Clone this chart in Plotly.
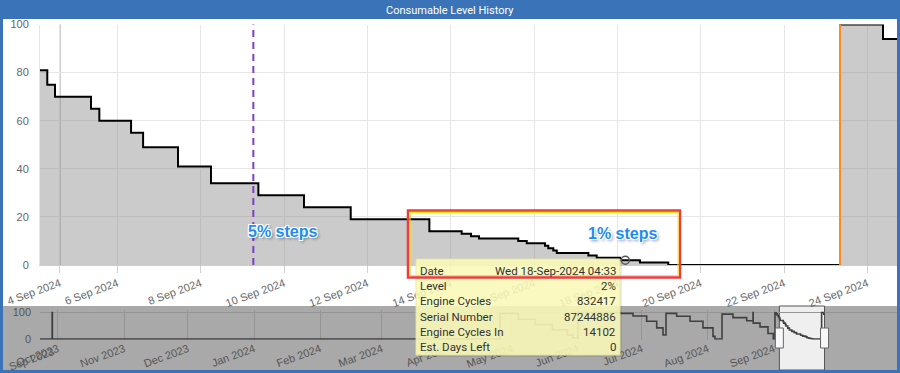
import plotly.graph_objects as go

# ---------------- data ----------------
dates = [
    "2023-09-22 12:00", "2023-09-28 06:00", "2023-09-28 09:00",
    "2024-04-25 10:00", "2024-05-04 00:00", "2024-05-12 00:00", "2024-05-20 00:00",
    "2024-05-27 00:00", "2024-05-29 16:00",
    "2024-06-01 00:30", "2024-06-20 17:30", "2024-06-26 20:00", "2024-07-03 06:00",
    "2024-07-07 23:00", "2024-07-10 21:50",
    "2024-07-12 07:40", "2024-07-17 08:00", "2024-07-23 14:00", "2024-07-29 16:00",
    "2024-08-03 09:00", "2024-08-04 07:30",
    "2024-08-07 14:20", "2024-08-12 18:00", "2024-08-19 04:30", "2024-08-22 03:36",
    "2024-08-22 06:00", "2024-08-25 10:20", "2024-08-29 04:20", "2024-08-31 16:00",
    "2024-09-01 11:16", "2024-09-02 00:00", "2024-09-02 12:00", "2024-09-03 00:00",
    "2024-09-03 08:00",
    "2024-09-03 16:41", "2024-09-03 21:07", "2024-09-05 08:48", "2024-09-05 13:36",
    "2024-09-06 07:52", "2024-09-06 14:48", "2024-09-07 10:54", "2024-09-08 05:54",
    "2024-09-09 09:12", "2024-09-10 11:30", "2024-09-11 14:24", "2024-09-13 11:42",
    "2024-09-14 06:18", "2024-09-14 11:42", "2024-09-14 16:18", "2024-09-15 14:54",
    "2024-09-15 19:48", "2024-09-16 06:18", "2024-09-16 08:12", "2024-09-16 11:06",
    "2024-09-16 13:06", "2024-09-17 07:18", "2024-09-17 12:06", "2024-09-18 01:30",
    "2024-09-18 04:33", "2024-09-18 13:00", "2024-09-19 05:18", "2024-09-23 08:14",
    "2024-09-24 09:00", "2024-09-24 17:04",
]
levels = [
    0, 100, 0,
    97, 75, 55, 35,
    15, 5,
    100, 97, 87, 67,
    42, 15,
    97, 86, 67, 42,
    10, 0,
    94, 81, 69, 100,
    60, 46, 21, 0,
    99, 95, 90, 85,
    81,
    75, 70, 65, 60,
    55, 49, 41, 34,
    29, 24, 19, 14,
    13, 12, 11, 10,
    9, 8, 7, 6,
    5, 4, 3, 2,
    2, 1, 0, 100,
    94, 94,
]

main_range = ["2024-09-03 12:29", "2024-09-24 17:04"]
nav_range = ["2023-09-22 13:26", "2024-10-28 17:17"]
data_gap = ["2024-09-04 06:00", "2024-09-04 20:56"]
nav_ticks = ["2023-10-01", "2023-11-01", "2023-12-01", "2024-01-01", "2024-02-01",
             "2024-03-01", "2024-04-01", "2024-05-01", "2024-06-01", "2024-07-01",
             "2024-08-01", "2024-09-01"]
nav_first_label = "Sep 2023"

gray_line_date = "2024-09-04 00:00"
purple_line_date = "2024-09-09 06:18"
orange_line_date = "2024-09-23 08:14"

hover_date = "2024-09-18 04:33"
hover_level = 2
tooltip_labels = ["Date", "Level", "Engine Cycles", "Serial Number",
                  "Engine Cycles In", "Est. Days Left"]
tooltip_values = ["Wed 18-Sep-2024 04:33", "2%", "832417", "87244886", "14102", "0"]

title_text = "Consumable Level History"
note_5 = "5% steps"
note_1 = "1% steps"

# ---------------- layout helpers (pixel -> paper) ----------------
W, H = 900, 373
PL, PR = 40, 897


def fx(px):
    return (px - PL) / (PR - PL)


def fy(py):
    return 1 - py / H


BLUE = "#3a73b8"
TXT = "#666666"

fig = go.Figure()

fig.add_trace(go.Scatter(
    x=dates, y=levels, xaxis="x", yaxis="y", mode="lines",
    line=dict(color="#000000", width=2, shape="hv"),
    fill="tozeroy", fillcolor="rgba(140,140,140,0.45)",
    hoverinfo="skip", showlegend=False))

fig.add_trace(go.Scatter(
    x=dates, y=levels, xaxis="x2", yaxis="y2", mode="lines",
    line=dict(color="#404040", width=1.6, shape="hv"),
    hoverinfo="skip", showlegend=False))

fig.add_trace(go.Scatter(
    x=[hover_date], y=[hover_level], xaxis="x", yaxis="y", mode="markers",
    marker=dict(size=8, color="rgba(0,0,0,0)", line=dict(color="#555555", width=1.5)),
    hoverinfo="skip", showlegend=False))

shapes = []
# navigator background / mask
shapes.append(dict(type="rect", xref="paper", yref="paper", x0=fx(3), x1=fx(897),
                   y0=fy(370), y1=fy(306), fillcolor="#a9a9a9", line=dict(width=0),
                   layer="below"))
shapes.append(dict(type="rect", xref="x2", yref="paper", x0=main_range[0], x1=main_range[1],
                   y0=fy(370), y1=fy(306), fillcolor="#efefef",
                   line=dict(color="#555555", width=1), layer="below"))
# plot lines
shapes.append(dict(type="line", xref="x", yref="y domain", x0=gray_line_date, x1=gray_line_date,
                   y0=0, y1=1, line=dict(color="#9a9a9a", width=1), layer="below"))
shapes.append(dict(type="line", xref="x", yref="y domain", x0=purple_line_date, x1=purple_line_date,
                   y0=0, y1=1, line=dict(color="#7d3fc6", width=2, dash="7px,5px")))
shapes.append(dict(type="line", xref="x", yref="y domain", x0=orange_line_date, x1=orange_line_date,
                   y0=0, y1=1, line=dict(color="#ff8c1a", width=2)))
# navigator handles
for d in main_range:
    shapes.append(dict(type="rect", xref="x2", yref="paper", xsizemode="pixel", xanchor=d,
                       x0=-4, x1=4, y0=fy(348), y1=fy(328), fillcolor="#f8f8f8",
                       line=dict(color="#666666", width=1)))
# tooltip shadow + box
shapes.append(dict(type="rect", xref="paper", yref="paper", x0=fx(418), x1=fx(622),
                   y0=fy(357), y1=fy(261), fillcolor="rgba(0,0,0,0.08)", line=dict(width=0)))
shapes.append(dict(type="rect", xref="paper", yref="paper", x0=fx(416), x1=fx(620),
                   y0=fy(355), y1=fy(259), fillcolor="rgba(250,250,185,0.88)",
                   line=dict(color="rgba(230,230,160,0.9)", width=1)))
# highlight box (red with inner yellow)
shapes.append(dict(type="rect", xref="paper", yref="paper", x0=fx(408), x1=fx(680),
                   y0=fy(277.5), y1=fy(210.5), fillcolor="rgba(0,0,0,0)",
                   line=dict(color="#ee3b3b", width=2.5)))
shapes.append(dict(type="rect", xref="paper", yref="paper", x0=fx(410), x1=fx(678),
                   y0=fy(275.5), y1=fy(212.5), fillcolor="rgba(0,0,0,0)",
                   line=dict(color="#ffe600", width=1)))
# blue frame + title bar
shapes.append(dict(type="rect", xref="paper", yref="paper", x0=fx(0), x1=fx(900),
                   y0=fy(19), y1=fy(0), fillcolor=BLUE, line=dict(width=0)))
shapes.append(dict(type="rect", xref="paper", yref="paper", x0=fx(0), x1=fx(3),
                   y0=fy(373), y1=fy(0), fillcolor=BLUE, line=dict(width=0)))
shapes.append(dict(type="rect", xref="paper", yref="paper", x0=fx(897), x1=fx(900),
                   y0=fy(373), y1=fy(0), fillcolor=BLUE, line=dict(width=0)))
shapes.append(dict(type="rect", xref="paper", yref="paper", x0=fx(0), x1=fx(900),
                   y0=fy(373), y1=fy(370), fillcolor=BLUE, line=dict(width=0)))

annotations = []
annotations.append(dict(text=title_text, xref="paper", yref="paper", x=fx(450), y=fy(10),
                        xanchor="center", yanchor="middle", showarrow=False,
                        font=dict(family="Roboto, Noto Sans, sans-serif", size=11,
                                  color="#ffffff")))
note_font = dict(family="Liberation Sans, Arial, sans-serif", size=16, color="#1e8cf0",
                 weight="bold",
                 shadow="1px 1px 0 #fff, -1px -1px 0 #fff, 1px -1px 0 #fff, -1px 1px 0 #fff, 2px 2px 3px rgba(0,0,0,0.45)")
annotations.append(dict(text=note_5, xref="paper", yref="paper", x=fx(282.5), y=fy(231),
                        xanchor="center", yanchor="middle", showarrow=False, font=note_font))
annotations.append(dict(text=note_1, xref="paper", yref="paper", x=fx(622), y=fy(233),
                        xanchor="center", yanchor="middle", showarrow=False, font=note_font))
row_y = [270.7, 286, 301, 316.7, 331.7, 346.7]
tip_font = dict(family="Roboto, Noto Sans, sans-serif", size=11.5, color="#333333")
for lab, val, ry in zip(tooltip_labels, tooltip_values, row_y):
    annotations.append(dict(text=lab, xref="paper", yref="paper", x=fx(418), y=fy(ry),
                            xanchor="left", yanchor="middle", showarrow=False, font=tip_font))
    annotations.append(dict(text=val, xref="paper", yref="paper", x=fx(618), y=fy(ry),
                            xanchor="right", yanchor="middle", showarrow=False, font=tip_font))
annotations.append(dict(text=nav_first_label, xref="paper", yref="paper", x=fx(58), y=fy(343),
                        xanchor="right", yanchor="top", textangle=-20, showarrow=False,
                        font=dict(family="Liberation Sans, Arial, sans-serif", size=11,
                                  color="#555555")))

axis_font = dict(family="Liberation Sans, Arial, sans-serif", size=11, color=TXT)

fig.update_layout(
    width=W, height=H,
    margin=dict(l=PL, r=W - PR, t=0, b=0),
    paper_bgcolor="#ffffff", plot_bgcolor="rgba(0,0,0,0)",
    showlegend=False,
    xaxis=dict(domain=[0, 1], anchor="y", type="date", range=main_range,
               rangebreaks=[dict(bounds=data_gap)],
               tick0="2024-09-04", dtick=2 * 86400000, tickformat="%-d %b %Y",
               tickangle=-20, tickfont=axis_font, ticks="outside", ticklen=7,
               tickcolor="#d0d0d0", showgrid=True, gridcolor="#e6e6e6", gridwidth=1,
               showline=True, linecolor="#cccccc", zeroline=False, automargin=False),
    yaxis=dict(domain=[fy(265), fy(24.5)], anchor="x", range=[0, 100], dtick=20,
               tickfont=axis_font, showgrid=True, gridcolor="#e6e6e6", zeroline=False,
               ticks="", ticklabelstandoff=8, automargin=False,
               showline=True, linecolor="#e6e6e6"),
    xaxis2=dict(domain=[0, 1], anchor="y2", type="date", range=nav_range,
                tickvals=nav_ticks, tickformat="%b %Y", tickangle=-20,
                tickfont=dict(family="Liberation Sans, Arial, sans-serif", size=11,
                              color="#555555"),
                ticks="", showgrid=True, gridcolor="#959595", zeroline=False,
                showline=False, automargin=False),
    yaxis2=dict(domain=[fy(339.8), fy(309.93)], anchor="x2", range=[-3, 110],
                tickvals=[0, 100], tickfont=dict(family="Liberation Sans, Arial, sans-serif",
                                                  size=11, color="#555555"),
                showgrid=True, gridcolor="#959595", zeroline=False, ticks="",
                ticklabelstandoff=8, automargin=False),
    shapes=shapes,
    annotations=annotations,
)

fig.write_html("out.html", config={"displayModeBar": False},
               post_script="document.body.style.margin='0';document.body.style.overflow='hidden';")
